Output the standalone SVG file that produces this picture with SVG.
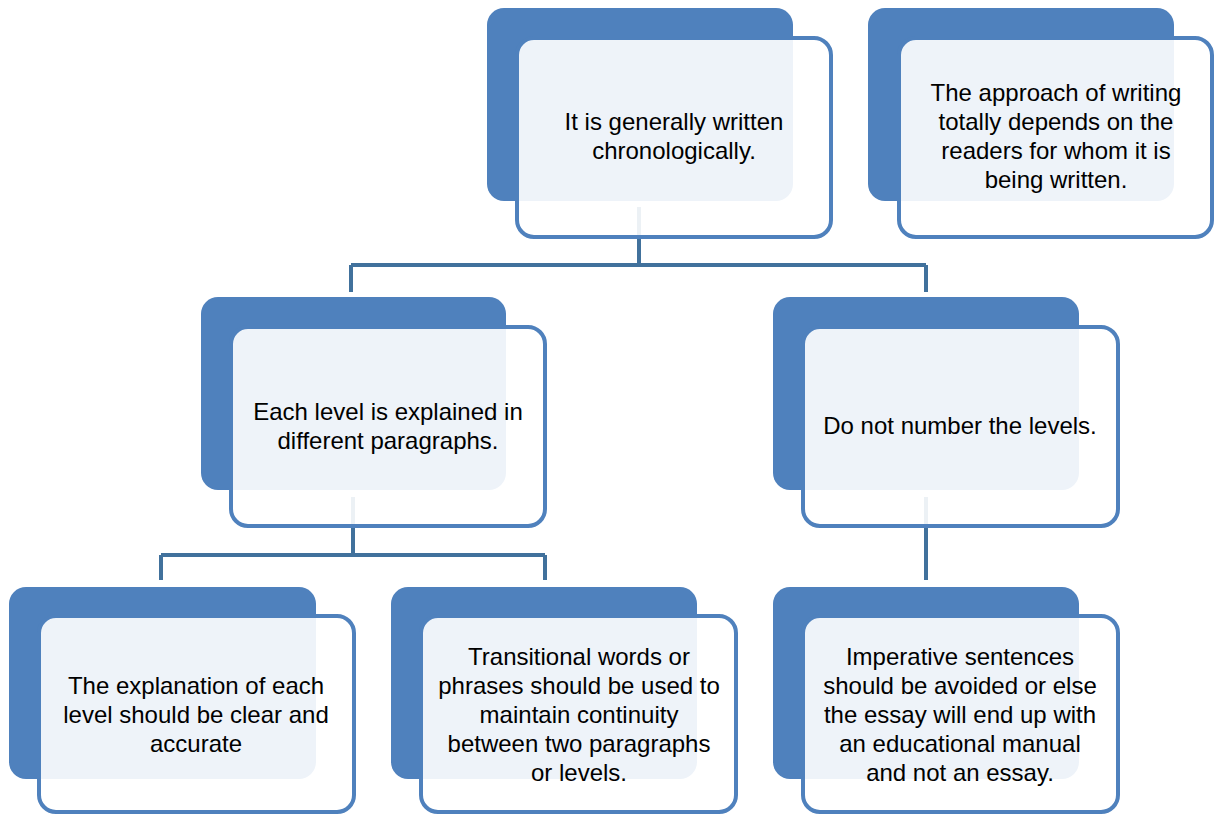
<svg xmlns="http://www.w3.org/2000/svg" width="1216" height="814" viewBox="0 0 1216 814">
<style>
.back{fill:#4F81BD}
.front{fill:#FFFFFF;fill-opacity:0.9;stroke:#4F81BD;stroke-width:4}
.conn{fill:none;stroke:#41719C;stroke-width:4}
text{font-family:"Liberation Sans",Arial,sans-serif;font-size:24px;fill:#000000;text-anchor:middle}
</style>
<rect width="1216" height="814" fill="#FFFFFF"/>
<g id="connectors">
<path class="conn" d="M639,207 V265 M351,265 H926 M351,265 V292 M926,265 V292"/>
<path class="conn" d="M353,497 V555 M161,555 H545 M161,555 V580 M545,555 V580"/>
<path class="conn" d="M926,497 V580"/>
</g>
<g id="n1">
<rect class="back" x="487" y="8" width="306" height="193" rx="17"/>
<rect class="front" x="517" y="38" width="314" height="199" rx="17"/>
<text x="674" y="130">It is generally written</text>
<text x="674" y="159">chronologically.</text>
</g>
<g id="n2">
<rect class="back" x="868" y="8" width="306" height="193" rx="17"/>
<rect class="front" x="899" y="38" width="313" height="199" rx="17"/>
<text x="1056" y="101">The approach of writing</text>
<text x="1056" y="130">totally depends on the</text>
<text x="1056" y="159">readers for whom it is</text>
<text x="1056" y="188">being written.</text>
</g>
<g id="n3">
<rect class="back" x="201" y="297" width="305" height="193" rx="17"/>
<rect class="front" x="231" y="327" width="314" height="199" rx="17"/>
<text x="388" y="420">Each level is explained in</text>
<text x="388" y="449">different paragraphs.</text>
</g>
<g id="n4">
<rect class="back" x="773" y="297" width="306" height="193" rx="17"/>
<rect class="front" x="803" y="327" width="315" height="199" rx="17"/>
<text x="960" y="434">Do not number the levels.</text>
</g>
<g id="n5">
<rect class="back" x="9" y="587" width="307" height="192" rx="17"/>
<rect class="front" x="39" y="616" width="315" height="196" rx="17"/>
<text x="196" y="694">The explanation of each</text>
<text x="196" y="723">level should be clear and</text>
<text x="196" y="752">accurate</text>
</g>
<g id="n6">
<rect class="back" x="391" y="587" width="306" height="192" rx="17"/>
<rect class="front" x="421" y="616" width="315" height="196" rx="17"/>
<text x="579" y="665">Transitional words or</text>
<text x="579" y="694">phrases should be used to</text>
<text x="579" y="723">maintain continuity</text>
<text x="579" y="752">between two paragraphs</text>
<text x="579" y="781">or levels.</text>
</g>
<g id="n7">
<rect class="back" x="773" y="587" width="306" height="192" rx="17"/>
<rect class="front" x="803" y="616" width="315" height="196" rx="17"/>
<text x="960" y="665">Imperative sentences</text>
<text x="960" y="694">should be avoided or else</text>
<text x="960" y="723">the essay will end up with</text>
<text x="960" y="752">an educational manual</text>
<text x="960" y="781">and not an essay.</text>
</g>
</svg>
